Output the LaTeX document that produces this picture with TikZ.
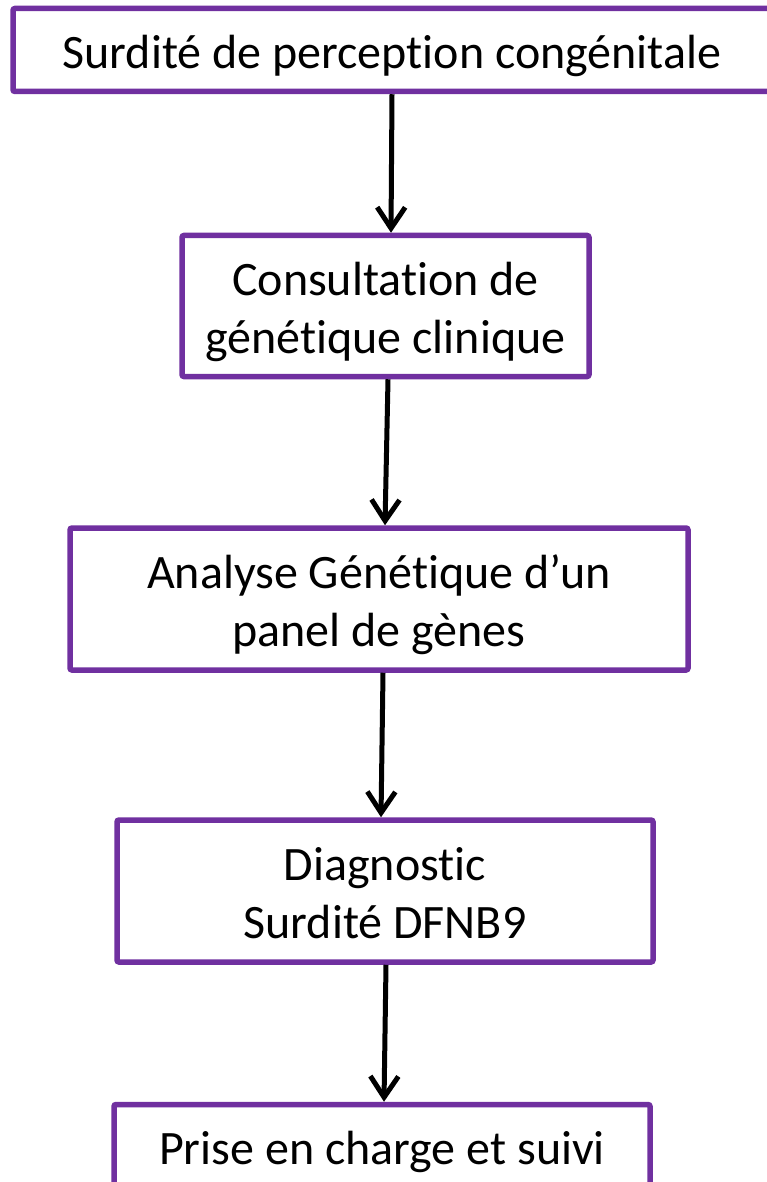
\documentclass[tikz,border=0pt]{standalone}
\usepackage{fontspec}
\setmainfont{Carlito}[Ligatures={NoCommon,NoContextual,NoRare},Contextuals=NoAlternate]
\usetikzlibrary{arrows.meta}
\definecolor{boxpurple}{HTML}{7030A0}
\newcommand{\nl}{t\kern0pt i}
\newcommand{\boxtxt}[1]{\raisebox{-7pt}[\height][\depth]{\begin{tabular}{@{}c@{}}#1\end{tabular}}}
\begin{document}
\begin{tikzpicture}[x=1pt,y=-1pt,
  box/.style={draw=boxpurple,line width=5.5pt,rounded corners=2pt,fill=white,inner sep=0pt,
    font=\fontsize{48}{58}\selectfont},
  arr/.style={line width=5pt,-{Straight Barb[length=21pt,width=28pt,line width=5pt]}}]
\useasboundingbox (0,0) rectangle (766,1182);
\node[box,minimum width=758pt,minimum height=83pt] (b1) at (392,50) {\boxtxt{Surdité de percep\nl on congénitale}};
\node[box,minimum width=407pt,minimum height=141pt] (b2) at (385.5,306) {\boxtxt{Consulta\nl on de\\géné\nl que clinique}};
\node[box,minimum width=618pt,minimum height=142pt] (b3) at (379,599) {\boxtxt{Analyse Géné\nl que d’un\\panel de gènes}};
\node[box,minimum width=536pt,minimum height=142pt] (b4) at (385,891) {\boxtxt{Diagnos\nl c\\Surdité DFNB9}};
\node[box,minimum width=536pt,minimum height=83pt] (b5) at (382,1146) {\boxtxt{Prise en charge et suivi}};
\draw[arr] ([xshift=0pt]b1.south) -- ([xshift=5.5pt]b2.north);
\draw[arr] ([xshift=2.5pt]b2.south) -- ([xshift=6pt]b3.north);
\draw[arr] ([xshift=4pt]b3.south) -- ([xshift=-4pt]b4.north);
\draw[arr] ([xshift=1pt]b4.south) -- ([xshift=2pt]b5.north);
\end{tikzpicture}
\end{document}
